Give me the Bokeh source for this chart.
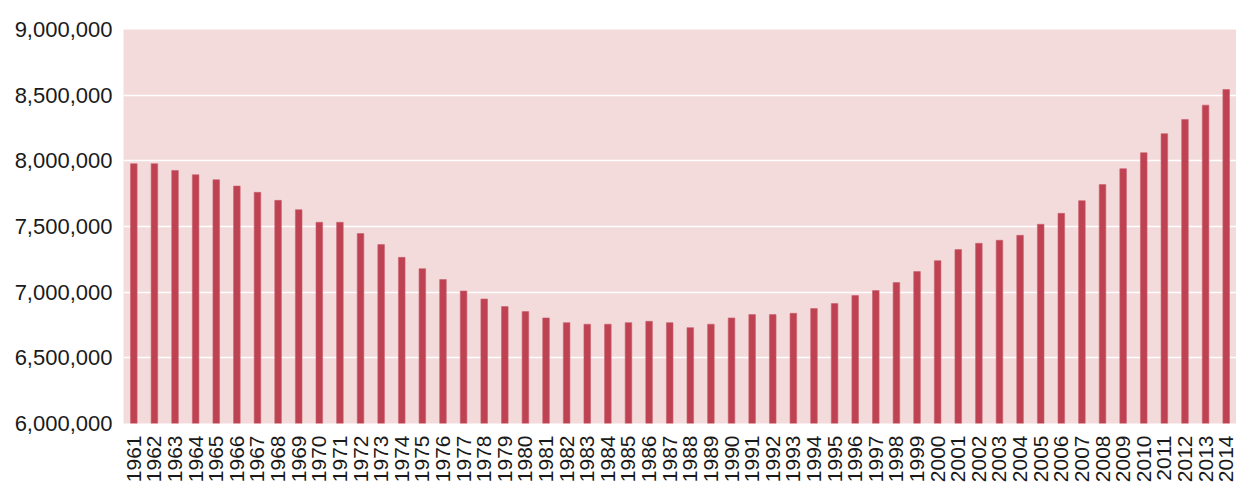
from math import pi
from bokeh.plotting import figure
from bokeh.models import Range1d, FixedTicker, NumeralTickFormatter, ColumnDataSource
from bokeh.embed import file_html
from bokeh.resources import INLINE

years = [str(y) for y in range(1961, 2015)]
population = [
    7978000, 7978000, 7927000, 7894000, 7856000, 7808000, 7760000, 7699000, 7628000, 7532000,
    7532000, 7446000, 7362000, 7265000, 7179000, 7096000, 7009000, 6948000, 6890000, 6852000,
    6804000, 6768000, 6756000, 6756000, 6768000, 6778000, 6768000, 6730000, 6756000, 6804000,
    6829000, 6829000, 6839000, 6875000, 6913000, 6974000, 7012000, 7073000, 7157000, 7240000,
    7324000, 7372000, 7395000, 7433000, 7517000, 7600000, 7697000, 7819000, 7940000, 8062000,
    8207000, 8315000, 8424000, 8543000,
]
y_ticks = [6000000, 6500000, 7000000, 7500000, 8000000, 8500000, 9000000]

source = ColumnDataSource(data=dict(year=years, population=population))

p = figure(
    x_range=years,
    width=1236, height=485,
    output_backend="svg", toolbar_location=None,
    min_border_left=123, min_border_right=0, min_border_top=29, min_border_bottom=62,
)
p.y_range = Range1d(6000000, 9000000)
p.x_range.range_padding = 0

p.vbar(x="year", top="population", bottom=6000000, width=0.32, source=source,
       fill_color="#BE4252", line_color="#C9606E", line_width=0.6)

p.background_fill_color = "#F3DBDB"
p.border_fill_color = "white"
p.outline_line_color = None

p.xgrid.grid_line_color = None
p.ygrid.grid_line_color = "white"
p.ygrid.grid_line_width = 1.5
p.ygrid.ticker = FixedTicker(ticks=y_ticks)

p.yaxis.ticker = FixedTicker(ticks=y_ticks)
p.yaxis.formatter = NumeralTickFormatter(format="0,0")
p.yaxis.axis_line_color = None
p.yaxis.major_tick_line_color = None
p.yaxis.minor_tick_line_color = None
p.yaxis.major_tick_out = 0
p.yaxis.major_tick_in = 0
p.yaxis.minor_tick_out = 0
p.yaxis.major_label_standoff = 11
p.yaxis.major_label_text_font = "Liberation Sans"
p.yaxis.major_label_text_font_size = "22px"
p.yaxis.major_label_text_color = "#1a1a1a"

p.xaxis.axis_line_color = None
p.xaxis.major_tick_line_color = None
p.xaxis.minor_tick_line_color = None
p.xaxis.major_tick_out = 0
p.xaxis.major_tick_in = 0
p.xaxis.minor_tick_out = 0
p.xaxis.major_label_orientation = pi / 2
p.xaxis.major_label_standoff = 12
p.xaxis.major_label_text_font = "Liberation Sans"
p.xaxis.major_label_text_font_size = "21px"
p.xaxis.major_label_text_color = "#1a1a1a"

open("out.html", "w").write(file_html(p, INLINE))
